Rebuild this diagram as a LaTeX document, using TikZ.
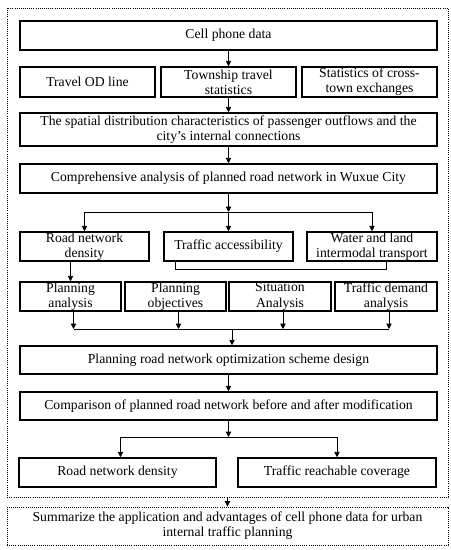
\documentclass[tikz,border=0pt]{standalone}
\usepackage{fontspec}
\setmainfont{Liberation Serif}
\usetikzlibrary{arrows.meta,positioning}

\begin{document}
\begin{tikzpicture}[x=0.03cm, y=-0.03cm,
    box/.style={draw, line width=1.3pt, align=center, inner sep=0.5pt, font=\fontsize{11.7}{13}\selectfont},
    link/.style={line width=0.7pt},
    arr/.style={link, -{Triangle[length=1.6mm, width=1.6mm]}}]
    \def\px{0.03cm}
    \def\h{29*\px}
    \def\full{417*\px}
    \useasboundingbox (0,0) rectangle (451,550);

    % dotted frame round the analysis
    \draw[densely dotted, line width=0.8pt] (7,8) rectangle (448,497);

    \node(cpd) [box, minimum width=\full, minimum height=\h] at (228.5,35.5) {Cell phone data};
    \node(od) [box, minimum width=135*\px, minimum height=30*\px] at (87.5,82) {Travel OD line};
    \node(town) [box, minimum width=135*\px, minimum height=30*\px] at (228.5,82) {Township travel\\statistics};
    \node(cross) [box, minimum width=135*\px, minimum height=30*\px] at (369.5,82) {Statistics of cross-\\town exchanges};
    \node(spatial) [box, minimum width=\full, minimum height=33*\px] at (228.5,129.5) {The spatial distribution characteristics of passenger outflows and the\\city's internal connections};
    \node(comp) [box, minimum width=\full, minimum height=\h] at (228.5,178.5) {Comprehensive analysis of planned road network in Wuxue City};

    \node(dens) [box, minimum width=129*\px, minimum height=\h] at (84.5,246.5) {Road network\\density};
    \node(acc) [box, minimum width=129*\px, minimum height=\h] at (228.5,246.5) {Traffic accessibility};
    \node(water) [box, minimum width=130*\px, minimum height=\h] at (372,246.5) {Water and land\\intermodal transport};

    \node(pa) [box, minimum width=101*\px, minimum height=\h] at (70.5,296.5) {Planning\\analysis};
    \node(po) [box, minimum width=101*\px, minimum height=\h] at (175.5,296.5) {Planning\\objectives};
    \node(sa) [box, minimum width=102*\px, minimum height=\h] at (280,296.5) {Situation\\Analysis};
    \node(td) [box, minimum width=102*\px, minimum height=\h] at (386,296.5) {Traffic demand\\analysis};

    \node(opt) [box, minimum width=\full, minimum height=28*\px] at (228.5,360) {Planning road network optimization scheme design};
    \node(cmp) [box, minimum width=\full, minimum height=28*\px] at (228.5,406) {Comparison of planned road network before and after modification};

    \node(rnd) [box, minimum width=197*\px, minimum height=\h] at (117.5,472.5) {Road network density};
    \node(trc) [box, minimum width=198*\px, minimum height=\h] at (337,472.5) {Traffic reachable coverage};

    \node(summ) [draw, densely dotted, line width=0.8pt, align=center, font=\fontsize{11.7}{13}\selectfont, minimum width=441*\px, minimum height=38*\px] at (227.5,526) {Summarize the application and advantages of cell phone data for urban\\internal traffic planning};

    \coordinate (fork1) at (228.5,212);
    \coordinate (merge) at (232,329);
    \coordinate (fork2) at (228.5,437);
    \coordinate (frame) at (227.5,497);

    \draw[arr] (cpd) -- (town);
    \draw[arr] (town) -- (spatial);
    \draw[arr] (spatial) -- (comp);
    \draw[arr] (comp) -- (fork1);
    \draw[arr] (fork1) -- (acc);
    \draw[arr] (fork1) -| (dens);
    \draw[arr] (fork1) -| (water);

    \draw[arr] (pa.north |- dens.south) -- (pa);
    \draw[link] (po.north |- acc.south) -- ++(0,8) -| (td.north |- water.south);

    \foreach \n in {pa,po,sa,td}
        \draw[arr] ([xshift=3*\px]\n.south) -- ([xshift=3*\px]\n.south |- merge);
    \draw[link] ([xshift=3*\px]pa.south |- merge) -- ([xshift=3*\px]td.south |- merge);
    \draw[arr] (merge) -- (merge |- opt.north);

    \draw[arr] (opt) -- (cmp);
    \draw[arr] (cmp) -- (fork2);
    \draw[arr] (fork2) -| ([xshift=3*\px]rnd.north);
    \draw[arr] (fork2) -| (trc);
    \draw[arr] (frame) -- (summ);
\end{tikzpicture}
\end{document}
